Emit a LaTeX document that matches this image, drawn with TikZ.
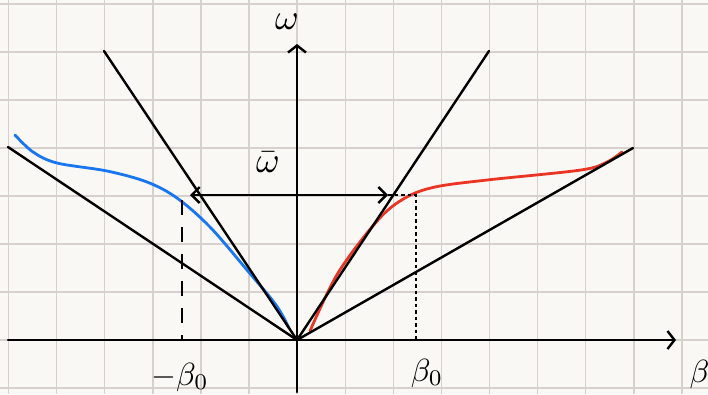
\documentclass[tikz,border=0pt]{standalone}
\usepackage{fontspec}
\usetikzlibrary{arrows.meta}
\definecolor{paper}{RGB}{250,248,244}
\definecolor{gridc}{RGB}{214,209,204}
\definecolor{curveblue}{RGB}{24,118,240}
\definecolor{curvered}{RGB}{234,52,36}
\begin{document}
\begin{tikzpicture}[x=1pt,y=-1pt,
  ink/.style={line width=2.4pt, black, line cap=round},
  gridline/.style={line width=1.4pt, gridc},
  barb/.style={-{Straight Barb[length=7pt,width=18pt,line width=2.4pt]}},
  curve/.style={line width=2.8pt, line cap=round, line join=round},
  lbl/.style={scale=3.2, inner sep=0pt},
  wlbl/.style={scale=3.6, inner sep=0pt}]
\fill[paper] (0,0) rectangle (708,394);
\useasboundingbox (0,0) rectangle (708,394);
\begin{scope}
\clip (0,0) rectangle (708,394);
\foreach \i in {0,...,14} \draw[gridline] (8.5+48.1*\i,0) -- (8.5+48.1*\i,394);
\foreach \j in {0,...,8} \draw[gridline] (0,4+48*\j) -- (708,4+48*\j);
\end{scope}
% points
\coordinate (O) at (297,340);
\coordinate (xs) at (8,340); \coordinate (xe) at (676,340);
\coordinate (ys) at (297,392); \coordinate (ye) at (297,44);
\coordinate (SL) at (104,51); \coordinate (SR) at (489,51);
\coordinate (FL) at (8,147); \coordinate (FR) at (633,148);
\coordinate (AL) at (190,195); \coordinate (AR) at (388,195);
\coordinate (DLt) at (182,200); \coordinate (DLb) at (182,340);
\coordinate (DRt) at (416,195); \coordinate (DRb) at (416,340);
% curves
\draw[curve, curveblue] plot[smooth, tension=0.55] coordinates {(15,135) (33,152) (57,163) (107,171) (147,182) (177,198) (210,227) (247,270) (276,305) (289,328)};
\draw[curve, curvered] plot[smooth, tension=0.55] coordinates {(310,331) (338,273) (378,220) (405,198) (435,187) (487,180) (581,170) (607,162) (622,152)};
% axes
\draw[ink, barb] (xs) -- (xe);
\draw[ink, barb] (ys) -- (ye);
% lines through origin
\draw[ink] (SL) -- (O) -- (SR);
\draw[ink] (FL) -- (O) -- (FR);
% double arrow
\draw[ink, {Straight Barb[length=8pt,width=16pt,line width=2.4pt]}-{Straight Barb[length=8pt,width=16pt,line width=2.4pt]}] (AL) -- (AR);
% dashed guides
\draw[ink, line cap=butt, dash pattern=on 15pt off 12pt] (DLt) -- (DLb);
\draw[line width=2pt, dash pattern=on 3.5pt off 3pt] (AR) -- (DRt) -- (DRb);
% labels
\node[wlbl] (w) at (287,22) {$\omega$};
\node[wlbl] (wb) at (268,162) {$\bar{\omega}$};
\node[lbl, anchor=west] (b) at (689,374) {$\beta$};
\node[lbl] (mb) at (180,377) {$-\beta_0$};
\node[lbl] (pb) at (427,373) {$\beta_0$};
\end{tikzpicture}
\end{document}
